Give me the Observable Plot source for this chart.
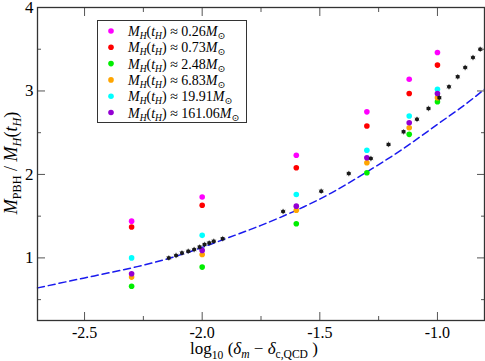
<!DOCTYPE html>
<html>
<head>
<meta charset="utf-8">
<script src="https://cdn.jsdelivr.net/npm/d3@7"></script>
<script src="https://cdn.jsdelivr.net/npm/@observablehq/plot@0.6"></script>
<style>
  html, body { margin: 0; padding: 0; background: #fff; }
  #chart svg { display: block; }
</style>
</head>
<body>
<div id="chart"></div>
<script>
// ---- data ----
const deltaX = [-2.3, -2.0, -1.6, -1.3, -1.12, -1.0];
const seriesNames = ["0.26", "0.73", "2.48", "6.83", "19.91", "161.06"];
const seriesColors = ["#ff00ff", "#ff0000", "#00ee00", "#ffa500", "#00ffff", "#9400d3"];
const m026 = [1.44, 1.73, 2.23, 2.75, 3.14, 3.46];
const m073 = [1.37, 1.63, 2.08, 2.58, 2.97, 3.31];
const m248 = [0.66, 0.89, 1.41, 2.02, 2.48, 2.87];
const m683 = [0.77, 1.04, 1.57, 2.14, 2.56, 2.92];
const m1991 = [1.00, 1.27, 1.76, 2.29, 2.70, 3.02];
const m16106 = [0.81, 1.09, 1.62, 2.20, 2.62, 2.97];
const seriesValues = [m026, m073, m248, m683, m1991, m16106];

const blackX = [-2.142, -2.111, -2.086, -2.059, -2.034, -2.011, -1.990, -1.970, -1.951, -1.913,
                -1.656, -1.494, -1.377, -1.283, -1.208, -1.144, -1.087, -1.038, -0.992, -0.951,
                -0.914, -0.882, -0.849, -0.818];
const blackY = [1.00, 1.03, 1.06, 1.08, 1.10, 1.13, 1.16, 1.18, 1.20, 1.23,
                1.556, 1.80, 2.01, 2.19, 2.36, 2.51, 2.66, 2.79, 2.92, 3.05,
                3.17, 3.28, 3.40, 3.50];

const fitX = [-2.7, -2.5, -2.3, -2.1, -1.9, -1.75, -1.6, -1.45, -1.3, -1.15, -1.0, -0.9, -0.8];
const fitY = [0.64, 0.76, 0.88, 1.03, 1.23, 1.39, 1.57, 1.78, 2.03, 2.30, 2.60, 2.80, 3.02];

const xMajor = [-2.5, -2.0, -1.5, -1.0];
const xMinor = [-2.25, -1.75, -1.25];
const yMajor = [1, 2, 3, 4];
const yMinor = [0.5, 1.5, 2.5, 3.5];

// ---- tables ----
const colored = [];
seriesValues.forEach((vals, si) => {
  vals.forEach((v, i) => colored.push({x: deltaX[i], y: v, s: si}));
});
const black = blackX.map((x, i) => ({x, y: blackY[i]}));
const fit = fitX.map((x, i) => ({x, y: fitY[i]}));

const FONT = "'Liberation Serif', 'DejaVu Serif', serif";
const blank = () => "";

const chart = Plot.plot({
  width: 485,
  height: 361,
  marginLeft: 37,
  marginRight: 1,
  marginTop: 7,
  marginBottom: 41,
  style: {fontFamily: FONT, fontSize: "16px", color: "#000", background: "#fff"},
  x: {domain: [-2.7, -0.8]},
  y: {domain: [0.25, 4]},
  color: {type: "ordinal", domain: d3.range(seriesNames.length), range: seriesColors},
  marks: [
    Plot.line(fit, {x: "x", y: "y", curve: "natural", stroke: "#1a1aee", strokeWidth: 1.5, strokeDasharray: "7,4"}),
    Plot.dot(colored, {x: "x", y: "y", fill: "s", r: 2.8}),
    Plot.dot(black, {x: "x", y: "y", fill: "#111", r: 2}),
    Plot.dot(black, {x: "x", y: "y", symbol: "asterisk", stroke: "#222", r: 2.6, strokeWidth: 0.5}),
    Plot.axisX({anchor: "bottom", ticks: xMajor, tickSize: -8, tickPadding: 14, tickFormat: d => d.toFixed(1), label: null, stroke: "#555", fontSize: 16}),
    Plot.axisX({anchor: "bottom", ticks: xMinor, tickSize: -4, tickFormat: blank, label: null, stroke: "#555"}),
    Plot.axisX({anchor: "top", ticks: xMajor, tickSize: -8, tickFormat: blank, label: null, stroke: "#555"}),
    Plot.axisX({anchor: "top", ticks: xMinor, tickSize: -4, tickFormat: blank, label: null, stroke: "#555"}),
    Plot.axisY({anchor: "left", ticks: yMajor, tickSize: -8, tickPadding: 12, tickFormat: d => String(d), label: null, stroke: "#555", fontSize: 17}),
    Plot.axisY({anchor: "left", ticks: yMinor, tickSize: -4, tickFormat: blank, label: null, stroke: "#555"}),
    Plot.axisY({anchor: "right", ticks: yMajor, tickSize: -8, tickFormat: blank, label: null, stroke: "#555"}),
    Plot.axisY({anchor: "right", ticks: yMinor, tickSize: -4, tickFormat: blank, label: null, stroke: "#555"}),
    Plot.frame({stroke: "#333", strokeWidth: 1.3})
  ]
});

document.getElementById("chart").appendChild(chart);

// ---- labels with subscripts ----
const svg = d3.select(chart);

function addRich(g, parts, baseSize) {
  parts.forEach(p => {
    const t = g.append("tspan").text(p.t);
    if (p.i) t.attr("font-style", "italic");
    if (p.sub) {
      t.attr("font-size", baseSize * 0.68).attr("dy", p.dy != null ? p.dy : 4);
    } else if (p.dy != null) {
      t.attr("dy", p.dy);
    }
  });
}

// x label
const xl = svg.append("text")
  .attr("x", 254).attr("y", 354)
  .attr("text-anchor", "middle")
  .attr("font-family", FONT).attr("font-size", 17).attr("fill", "#000");
addRich(xl, [
  {t: "log"}, {t: "10", sub: true, dy: 5}, {t: " (", dy: -5},
  {t: "δ", i: true}, {t: "m", i: true, sub: true, dy: 4}, {t: " − ", dy: -4},
  {t: "δ", i: true}, {t: "c,QCD", sub: true, dy: 4}, {t: " )", dy: -4}
], 17);

// y label
const yl = svg.append("text")
  .attr("transform", "translate(17,163) rotate(-90)")
  .attr("text-anchor", "middle")
  .attr("font-family", FONT).attr("font-size", 18).attr("fill", "#000");
addRich(yl, [
  {t: "M", i: true}, {t: "PBH", sub: true, dy: 4}, {t: " / ", dy: -4},
  {t: "M", i: true}, {t: "H", i: true, sub: true, dy: 4}, {t: "(", dy: -4},
  {t: "t", i: true}, {t: "H", i: true, sub: true, dy: 4}, {t: ")", dy: -4}
], 18);

// legend
const lg = svg.append("g");
lg.append("rect").attr("x", 97.5).attr("y", 20.5).attr("width", 149).attr("height", 102)
  .attr("fill", "#fff").attr("stroke", "#333").attr("stroke-width", 1);
seriesNames.forEach((name, i) => {
  const cy = 31 + i * 16.3;
  lg.append("circle").attr("cx", 111).attr("cy", cy).attr("r", 2.8).attr("fill", seriesColors[i]);
  const t = lg.append("text").attr("x", 128).attr("y", cy + 5)
    .attr("text-anchor", "start")
    .attr("font-family", FONT).attr("font-size", 14).attr("fill", "#000");
  addRich(t, [
    {t: "M", i: true}, {t: "H", i: true, sub: true, dy: 3}, {t: "(", dy: -3},
    {t: "t", i: true}, {t: "H", i: true, sub: true, dy: 3}, {t: ") ≈ " + name, dy: -3},
    {t: "M", i: true}, {t: "⊙", sub: true, dy: 3}
  ], 14);
});
</script>
</body>
</html>
